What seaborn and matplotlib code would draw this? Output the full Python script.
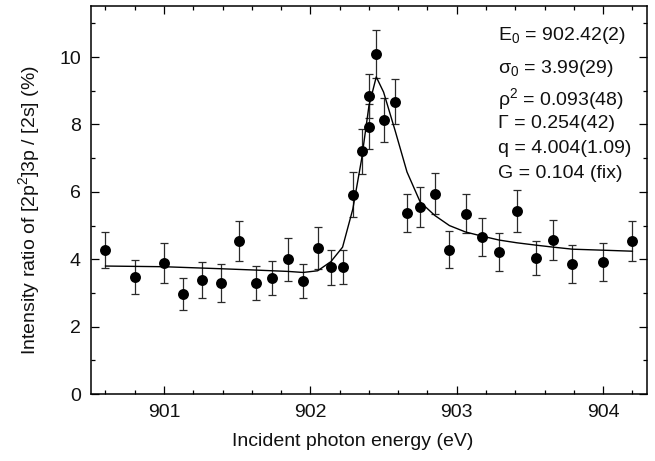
import numpy as np
import pandas as pd
import matplotlib
matplotlib.use("Agg")
import matplotlib.pyplot as plt
import seaborn as sns
from matplotlib.ticker import MultipleLocator

# ---- data ----
energy = [900.60, 900.80, 901.00, 901.13, 901.26, 901.39, 901.51, 901.63, 901.74,
          901.85, 901.95, 902.05, 902.14, 902.22, 902.29, 902.35, 902.40, 902.40,
          902.45, 902.50, 902.58, 902.66, 902.75, 902.85, 902.95, 903.06, 903.17,
          903.29, 903.41, 903.54, 903.66, 903.79, 904.00, 904.20]
ratio = [4.27, 3.47, 3.89, 2.97, 3.38, 3.29, 4.54, 3.29, 3.44,
         4.00, 3.36, 4.33, 3.76, 3.78, 5.92, 7.20, 8.84, 7.93,
         10.09, 8.14, 8.68, 5.38, 5.55, 5.95, 4.29, 5.35, 4.66,
         4.21, 5.43, 4.04, 4.57, 3.87, 3.92, 4.54]
ratio_err = [0.54, 0.50, 0.58, 0.47, 0.53, 0.57, 0.60, 0.50, 0.50,
             0.63, 0.51, 0.63, 0.53, 0.50, 0.66, 0.67, 0.66, 0.67,
             0.72, 0.65, 0.68, 0.57, 0.58, 0.60, 0.54, 0.58, 0.56,
             0.57, 0.62, 0.50, 0.59, 0.56, 0.56, 0.59]

fit_energy = [900.60, 900.80, 901.00, 901.13, 901.26, 901.39, 901.51, 901.63, 901.74,
              901.85, 901.95, 902.05, 902.14, 902.22, 902.29, 902.35, 902.40, 902.45,
              902.50, 902.58, 902.66, 902.75, 902.85, 902.95, 903.06, 903.17, 903.29,
              903.41, 903.54, 903.66, 903.79, 904.00, 904.20]
fit_ratio = [3.80, 3.79, 3.78, 3.76, 3.74, 3.72, 3.70, 3.68, 3.66,
             3.64, 3.61, 3.66, 3.93, 4.36, 5.49, 6.97, 8.55, 9.41,
             8.96, 7.80, 6.59, 5.70, 5.30, 5.00, 4.81, 4.69, 4.57,
             4.49, 4.42, 4.36, 4.30, 4.27, 4.24]

fit_params = [r"E$_0$ = 902.42(2)", "σ$_0$ = 3.99(29)", "ρ$^2$ = 0.093(48)",
              "Γ = 0.254(42)", "q = 4.004(1.09)", "G = 0.104 (fix)"]

# ---- style ----
sns.set_style("ticks")
plt.rcParams["font.family"] = ["Liberation Sans", "DejaVu Sans"]
plt.rcParams["mathtext.fontset"] = "custom"
plt.rcParams["mathtext.rm"] = "Liberation Sans"
plt.rcParams["mathtext.it"] = "Liberation Sans:italic"
plt.rcParams["mathtext.bf"] = "Liberation Sans:bold"
plt.rcParams["mathtext.default"] = "rm"

fig = plt.figure(figsize=(6.55, 4.61), dpi=100)
ax = fig.add_axes([0.1385, 0.145, 0.8495, 0.841])

df = pd.DataFrame({"energy": energy, "ratio": ratio, "err": ratio_err})
fit = pd.DataFrame({"energy": fit_energy, "ratio": fit_ratio})

ax.errorbar(df["energy"], df["ratio"], yerr=df["err"], fmt="none",
            ecolor="#2a2a2a", elinewidth=0.9, capsize=3.2, capthick=0.9, zorder=2)
sns.lineplot(data=fit, x="energy", y="ratio", ax=ax, color="black",
             linewidth=1.0, sort=False, zorder=3)
sns.scatterplot(data=df, x="energy", y="ratio", ax=ax, color="black",
                s=62, edgecolor="black", linewidth=0, zorder=4)

ax.set_xlim(900.5, 904.3)
ax.set_ylim(0, 11.5)
ax.xaxis.set_major_locator(MultipleLocator(1))
ax.xaxis.set_minor_locator(MultipleLocator(0.2))
ax.yaxis.set_major_locator(MultipleLocator(2))
ax.yaxis.set_minor_locator(MultipleLocator(1))
ax.tick_params(which="both", direction="in", top=True, right=True,
               labelsize=14, color="black", labelcolor="#111111")
ax.tick_params(which="major", length=6, width=0.9, pad=7)
ax.tick_params(which="minor", length=2.6, width=0.9)
for sp in ax.spines.values():
    sp.set_visible(True)
    sp.set_linewidth(1.1)
    sp.set_color("black")

ax.set_xlabel("Incident photon energy (eV)", fontsize=14, color="#111111")
ax.set_ylabel("Intensity ratio of [2p$^2$]3p / [2s] (%)", fontsize=14,
              color="#111111")
ax.xaxis.set_label_coords(0.47, -0.100)
ax.yaxis.set_label_coords(-0.087, 0.475)

y_pos = [0.914, 0.829, 0.746, 0.687, 0.622, 0.558]
for txt, yy in zip(fit_params, y_pos):
    ax.text(0.732, yy, txt, transform=ax.transAxes, fontsize=14,
            ha="left", va="baseline", color="#111111")

fig.savefig("out.png", dpi=100)
